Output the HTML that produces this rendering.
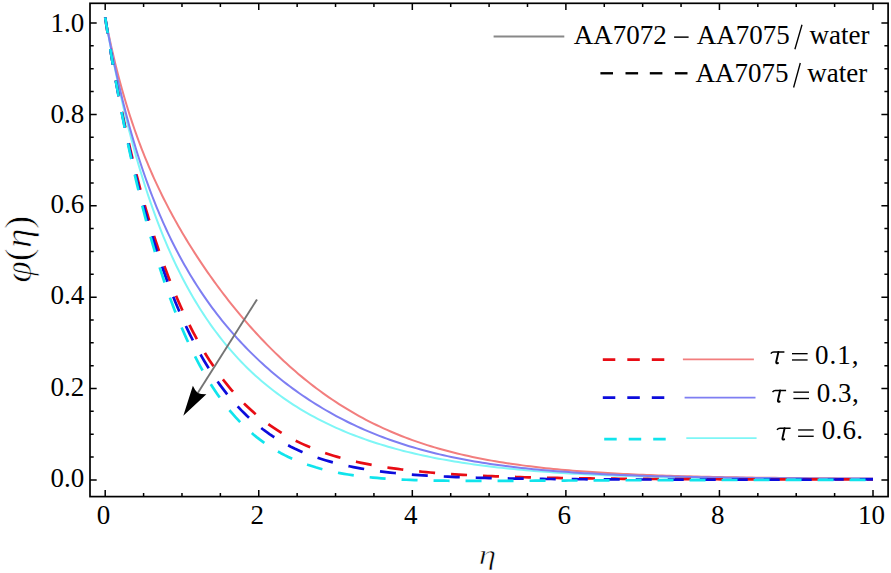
<!DOCTYPE html>
<html><head><meta charset="utf-8"><style>
html,body{margin:0;padding:0;background:#fff;overflow:hidden;}
svg{display:block;}
text{font-family:"Liberation Serif",serif;}
</style></head><body>
<svg width="891" height="573" viewBox="0 0 891 573">
<rect width="891" height="573" fill="#fff"/>
<g fill="none" stroke-linejoin="round">
<path d="M105.20,17.40 L105.95,21.23 L106.71,25.05 L107.49,28.88 L108.28,32.69 L109.09,36.51 L109.91,40.32 L110.74,44.13 L111.59,47.94 L112.46,51.74 L113.34,55.54 L114.24,59.34 L115.15,63.13 L116.09,66.92 L117.04,70.70 L118.00,74.48 L118.99,78.25 L120.00,82.02 L121.02,85.79 L122.06,89.54 L123.13,93.30 L124.21,97.04 L125.31,100.78 L126.44,104.52 L127.58,108.25 L128.75,111.97 L129.94,115.69 L131.15,119.39 L132.38,123.09 L133.63,126.79 L134.91,130.47 L136.21,134.15 L137.54,137.82 L138.88,141.48 L140.26,145.13 L141.65,148.77 L143.07,152.40 L144.52,156.03 L145.98,159.64 L147.48,163.24 L148.99,166.84 L150.54,170.42 L152.10,173.99 L153.69,177.55 L155.31,181.10 L156.95,184.64 L158.61,188.17 L160.30,191.69 L162.01,195.19 L163.75,198.68 L165.51,202.16 L167.30,205.63 L169.10,209.09 L170.93,212.53 L172.79,215.96 L174.67,219.38 L176.57,222.79 L178.49,226.18 L180.43,229.56 L182.40,232.93 L184.39,236.29 L186.40,239.63 L188.43,242.96 L190.49,246.27 L192.56,249.58 L194.66,252.87 L196.77,256.14 L198.91,259.41 L201.07,262.65 L203.25,265.89 L205.45,269.11 L207.67,272.32 L209.90,275.51 L212.16,278.69 L214.44,281.86 L216.74,285.01 L219.06,288.15 L221.40,291.27 L223.76,294.37 L226.14,297.47 L228.53,300.54 L230.95,303.60 L233.39,306.64 L235.85,309.67 L238.33,312.68 L240.83,315.68 L243.35,318.65 L245.89,321.61 L248.46,324.55 L251.04,327.48 L253.64,330.38 L256.27,333.26 L258.91,336.13 L261.58,338.97 L264.27,341.80 L266.99,344.60 L269.72,347.38 L272.48,350.14 L275.26,352.88 L278.06,355.59 L280.88,358.28 L283.73,360.95 L286.60,363.59 L289.50,366.20 L292.41,368.79 L295.36,371.35 L298.32,373.89 L301.31,376.39 L304.32,378.87 L307.36,381.32 L310.42,383.74 L313.50,386.13 L316.61,388.49 L319.74,390.81 L322.89,393.10 L326.07,395.37 L329.27,397.59 L332.50,399.79 L335.75,401.95 L339.02,404.07 L342.31,406.16 L345.63,408.21 L348.97,410.23 L352.33,412.21 L355.71,414.15 L359.11,416.06 L362.53,417.93 L365.98,419.76 L369.44,421.55 L372.93,423.31 L376.43,425.02 L379.95,426.70 L383.49,428.34 L387.04,429.94 L390.62,431.51 L394.21,433.03 L397.81,434.52 L401.43,435.97 L405.07,437.39 L408.72,438.76 L412.38,440.10 L416.06,441.40 L419.75,442.67 L423.45,443.90 L427.16,445.10 L430.88,446.26 L434.62,447.39 L438.36,448.48 L442.11,449.54 L445.88,450.57 L449.65,451.57 L453.43,452.53 L457.21,453.47 L461.01,454.38 L464.81,455.25 L468.61,456.10 L472.43,456.92 L476.25,457.72 L480.07,458.48 L483.90,459.22 L487.73,459.94 L491.57,460.63 L495.42,461.30 L499.26,461.95 L503.11,462.57 L506.97,463.17 L510.82,463.75 L514.68,464.31 L518.55,464.86 L522.41,465.38 L526.28,465.88 L530.15,466.36 L534.02,466.83 L537.90,467.28 L541.77,467.72 L545.65,468.14 L549.53,468.54 L553.41,468.93 L557.29,469.30 L561.18,469.67 L565.06,470.01 L568.95,470.35 L572.83,470.67 L576.72,470.98 L580.61,471.28 L584.50,471.57 L588.39,471.85 L592.28,472.11 L596.18,472.37 L600.07,472.62 L603.96,472.86 L607.85,473.09 L611.75,473.31 L615.64,473.52 L619.54,473.73 L623.43,473.93 L627.33,474.12 L631.23,474.30 L635.12,474.48 L639.02,474.64 L642.92,474.81 L646.81,474.97 L650.71,475.12 L654.61,475.26 L658.51,475.40 L662.40,475.54 L666.30,475.67 L670.20,475.79 L674.10,475.91 L678.00,476.03 L681.90,476.14 L685.80,476.25 L689.70,476.35 L693.59,476.45 L697.49,476.55 L701.39,476.64 L705.29,476.73 L709.19,476.82 L713.09,476.90 L716.99,476.98 L720.89,477.06 L724.79,477.13 L728.69,477.20 L732.59,477.27 L736.49,477.34 L740.39,477.40 L744.29,477.46 L748.19,477.52 L752.09,477.57 L755.99,477.63 L759.89,477.68 L763.79,477.73 L767.69,477.78 L771.59,477.83 L775.49,477.87 L779.39,477.92 L783.29,477.96 L787.19,478.00 L791.09,478.04 L794.99,478.07 L798.89,478.11 L802.79,478.14 L806.69,478.17 L810.59,478.21 L814.49,478.24 L818.39,478.27 L822.29,478.29 L826.20,478.32 L830.10,478.35 L834.00,478.37 L837.90,478.39 L841.80,478.42 L845.70,478.44 L849.60,478.46 L853.50,478.48 L857.40,478.50 L861.30,478.51 L865.20,478.53 L869.10,478.55 L873.00,478.56" stroke="#f27e7e" stroke-width="2.0"/>
<path d="M105.20,17.40 L105.90,21.33 L106.60,25.26 L107.31,29.19 L108.03,33.12 L108.76,37.05 L109.50,40.98 L110.24,44.90 L111.00,48.82 L111.76,52.74 L112.54,56.66 L113.32,60.58 L114.11,64.49 L114.91,68.41 L115.72,72.32 L116.54,76.23 L117.37,80.13 L118.21,84.04 L119.07,87.94 L119.93,91.84 L120.80,95.74 L121.69,99.63 L122.59,103.53 L123.49,107.41 L124.42,111.30 L125.35,115.18 L126.29,119.07 L127.25,122.94 L128.23,126.82 L129.21,130.69 L130.21,134.56 L131.22,138.42 L132.25,142.28 L133.29,146.14 L134.35,149.99 L135.42,153.84 L136.50,157.68 L137.61,161.52 L138.73,165.35 L139.86,169.18 L141.01,173.01 L142.18,176.82 L143.37,180.64 L144.58,184.45 L145.80,188.25 L147.04,192.04 L148.31,195.83 L149.59,199.62 L150.89,203.39 L152.21,207.16 L153.56,210.92 L154.92,214.68 L156.31,218.42 L157.72,222.16 L159.15,225.89 L160.61,229.61 L162.09,233.32 L163.59,237.02 L165.12,240.71 L166.68,244.39 L168.26,248.05 L169.86,251.71 L171.50,255.36 L173.16,258.99 L174.85,262.61 L176.57,266.21 L178.32,269.80 L180.10,273.38 L181.91,276.94 L183.75,280.48 L185.62,284.01 L187.52,287.52 L189.46,291.02 L191.43,294.49 L193.43,297.95 L195.47,301.38 L197.54,304.80 L199.65,308.19 L201.79,311.56 L203.97,314.91 L206.19,318.23 L208.44,321.53 L210.73,324.81 L213.06,328.05 L215.42,331.27 L217.82,334.46 L220.26,337.62 L222.74,340.75 L225.26,343.85 L227.82,346.92 L230.42,349.96 L233.05,352.96 L235.73,355.93 L238.44,358.86 L241.19,361.75 L243.98,364.61 L246.81,367.43 L249.67,370.21 L252.58,372.96 L255.52,375.66 L258.50,378.32 L261.51,380.94 L264.56,383.52 L267.64,386.06 L270.76,388.55 L273.92,391.00 L277.10,393.41 L280.32,395.78 L283.58,398.10 L286.86,400.37 L290.17,402.60 L293.51,404.79 L296.89,406.93 L300.29,409.03 L303.71,411.08 L307.17,413.09 L310.64,415.05 L314.15,416.97 L317.67,418.84 L321.22,420.68 L324.79,422.47 L328.39,424.21 L332.00,425.91 L335.63,427.57 L339.28,429.19 L342.95,430.77 L346.64,432.31 L350.34,433.81 L354.06,435.26 L357.79,436.68 L361.54,438.06 L365.30,439.41 L369.08,440.71 L372.87,441.98 L376.66,443.21 L380.48,444.41 L384.30,445.58 L388.13,446.71 L391.97,447.81 L395.82,448.87 L399.67,449.90 L403.54,450.91 L407.42,451.88 L411.30,452.82 L415.18,453.74 L419.08,454.62 L422.98,455.48 L426.89,456.31 L430.80,457.12 L434.72,457.90 L438.64,458.66 L442.56,459.39 L446.50,460.10 L450.43,460.78 L454.37,461.44 L458.31,462.08 L462.26,462.70 L466.21,463.30 L470.16,463.88 L474.11,464.45 L478.07,464.99 L482.03,465.51 L485.99,466.02 L489.96,466.51 L493.92,466.98 L497.89,467.43 L501.86,467.88 L505.83,468.30 L509.81,468.71 L513.78,469.11 L517.76,469.49 L521.73,469.86 L525.71,470.22 L529.69,470.56 L533.67,470.89 L537.65,471.21 L541.63,471.52 L545.62,471.82 L549.60,472.11 L553.59,472.39 L557.57,472.65 L561.56,472.91 L565.54,473.16 L569.53,473.40 L573.52,473.63 L577.51,473.85 L581.49,474.07 L585.48,474.27 L589.47,474.47 L593.46,474.66 L597.45,474.85 L601.44,475.03 L605.43,475.20 L609.42,475.36 L613.42,475.52 L617.41,475.68 L621.40,475.82 L625.39,475.97 L629.38,476.10 L633.37,476.24 L637.37,476.36 L641.36,476.49 L645.35,476.60 L649.34,476.72 L653.34,476.83 L657.33,476.93 L661.32,477.03 L665.31,477.13 L669.31,477.23 L673.30,477.32 L677.29,477.40 L681.29,477.49 L685.28,477.57 L689.27,477.65 L693.27,477.72 L697.26,477.79 L701.26,477.86 L705.25,477.93 L709.24,477.99 L713.24,478.06 L717.23,478.12 L721.22,478.17 L725.22,478.23 L729.21,478.28 L733.21,478.33 L737.20,478.38 L741.19,478.43 L745.19,478.48 L749.18,478.52 L753.18,478.56 L757.17,478.60 L761.16,478.64 L765.16,478.68 L769.15,478.72 L773.15,478.75 L777.14,478.79 L781.13,478.82 L785.13,478.85 L789.12,478.88 L793.12,478.91 L797.11,478.94 L801.10,478.97 L805.10,478.99 L809.09,479.02 L813.09,479.04 L817.08,479.06 L821.08,479.09 L825.07,479.11 L829.06,479.13 L833.06,479.15 L837.05,479.17 L841.05,479.19 L845.04,479.21 L849.03,479.22 L853.03,479.24 L857.02,479.26 L861.02,479.27 L865.01,479.29 L869.01,479.30 L873.00,479.31" stroke="#7ef6f6" stroke-width="2.0"/>
<path d="M105.20,17.40 L105.90,21.29 L106.62,25.18 L107.34,29.06 L108.07,32.95 L108.81,36.83 L109.56,40.71 L110.33,44.59 L111.10,48.46 L111.88,52.34 L112.68,56.21 L113.48,60.08 L114.30,63.94 L115.13,67.81 L115.97,71.67 L116.83,75.53 L117.69,79.38 L118.57,83.24 L119.46,87.09 L120.37,90.93 L121.29,94.78 L122.22,98.62 L123.17,102.46 L124.13,106.29 L125.11,110.12 L126.10,113.94 L127.11,117.77 L128.13,121.58 L129.17,125.40 L130.23,129.20 L131.30,133.01 L132.39,136.81 L133.50,140.60 L134.62,144.39 L135.77,148.17 L136.93,151.95 L138.11,155.72 L139.31,159.49 L140.53,163.25 L141.77,167.00 L143.03,170.74 L144.32,174.48 L145.62,178.21 L146.94,181.94 L148.29,185.65 L149.66,189.36 L151.05,193.06 L152.47,196.75 L153.91,200.43 L155.37,204.10 L156.86,207.76 L158.38,211.41 L159.92,215.05 L161.48,218.68 L163.07,222.30 L164.69,225.91 L166.33,229.50 L168.00,233.08 L169.70,236.65 L171.43,240.20 L173.19,243.74 L174.97,247.27 L176.78,250.78 L178.62,254.28 L180.49,257.76 L182.40,261.23 L184.33,264.68 L186.29,268.11 L188.28,271.52 L190.30,274.92 L192.35,278.29 L194.43,281.65 L196.55,284.99 L198.69,288.31 L200.87,291.61 L203.08,294.89 L205.32,298.15 L207.59,301.38 L209.89,304.60 L212.22,307.79 L214.58,310.95 L216.98,314.10 L219.40,317.22 L221.86,320.31 L224.35,323.39 L226.87,326.43 L229.41,329.45 L231.99,332.45 L234.60,335.41 L237.24,338.35 L239.92,341.27 L242.62,344.15 L245.35,347.01 L248.11,349.84 L250.89,352.64 L253.71,355.41 L256.56,358.15 L259.43,360.86 L262.34,363.55 L265.27,366.20 L268.23,368.82 L271.22,371.40 L274.23,373.96 L277.27,376.48 L280.34,378.98 L283.43,381.43 L286.55,383.86 L289.70,386.25 L292.87,388.61 L296.07,390.93 L299.29,393.22 L302.54,395.48 L305.81,397.70 L309.10,399.88 L312.42,402.03 L315.76,404.14 L319.12,406.22 L322.51,408.26 L325.91,410.26 L329.34,412.22 L332.79,414.15 L336.26,416.05 L339.75,417.90 L343.26,419.72 L346.79,421.50 L350.34,423.25 L353.90,424.95 L357.48,426.62 L361.08,428.25 L364.70,429.85 L368.33,431.41 L371.98,432.93 L375.64,434.41 L379.32,435.86 L383.01,437.27 L386.71,438.65 L390.43,439.99 L394.16,441.29 L397.91,442.56 L401.66,443.80 L405.42,445.00 L409.20,446.17 L412.99,447.30 L416.78,448.41 L420.59,449.48 L424.40,450.52 L428.22,451.52 L432.05,452.50 L435.89,453.45 L439.73,454.36 L443.58,455.25 L447.44,456.11 L451.30,456.95 L455.17,457.75 L459.05,458.53 L462.93,459.29 L466.81,460.01 L470.70,460.72 L474.59,461.40 L478.49,462.06 L482.39,462.69 L486.30,463.30 L490.20,463.89 L494.11,464.47 L498.03,465.02 L501.94,465.55 L505.86,466.06 L509.78,466.55 L513.71,467.03 L517.63,467.49 L521.56,467.93 L525.49,468.35 L529.42,468.76 L533.35,469.16 L537.29,469.54 L541.22,469.91 L545.16,470.26 L549.10,470.60 L553.04,470.92 L556.98,471.24 L560.92,471.54 L564.86,471.83 L568.80,472.11 L572.74,472.38 L576.69,472.64 L580.63,472.89 L584.58,473.13 L588.52,473.36 L592.47,473.58 L596.41,473.79 L600.36,474.00 L604.31,474.19 L608.26,474.38 L612.20,474.56 L616.15,474.74 L620.10,474.91 L624.05,475.07 L628.00,475.22 L631.95,475.37 L635.90,475.52 L639.85,475.65 L643.80,475.79 L647.75,475.91 L651.70,476.04 L655.65,476.15 L659.60,476.27 L663.55,476.37 L667.50,476.48 L671.45,476.58 L675.40,476.68 L679.35,476.77 L683.30,476.86 L687.26,476.94 L691.21,477.02 L695.16,477.10 L699.11,477.18 L703.06,477.25 L707.01,477.32 L710.97,477.39 L714.92,477.45 L718.87,477.51 L722.82,477.57 L726.77,477.63 L730.72,477.68 L734.68,477.74 L738.63,477.79 L742.58,477.83 L746.53,477.88 L750.48,477.92 L754.44,477.97 L758.39,478.01 L762.34,478.05 L766.29,478.08 L770.24,478.12 L774.20,478.15 L778.15,478.19 L782.10,478.22 L786.05,478.25 L790.00,478.27 L793.96,478.30 L797.91,478.33 L801.86,478.35 L805.81,478.37 L809.76,478.40 L813.72,478.42 L817.67,478.44 L821.62,478.46 L825.57,478.47 L829.53,478.49 L833.48,478.51 L837.43,478.52 L841.38,478.53 L845.33,478.55 L849.29,478.56 L853.24,478.57 L857.19,478.58 L861.14,478.59 L865.10,478.60 L869.05,478.60 L873.00,478.61" stroke="#7e7ef2" stroke-width="2.0"/>
<path d="M105.20,17.40 L105.82,21.45 L106.44,25.51 L107.07,29.56 L107.72,33.61 L108.37,37.66 L109.03,41.70 L109.70,45.75 L110.37,49.79 L111.06,53.84 L111.76,57.88 L112.46,61.92 L113.18,65.95 L113.90,69.99 L114.64,74.02 L115.38,78.06 L116.13,82.09 L116.90,86.12 L117.67,90.14 L118.45,94.17 L119.24,98.19 L120.05,102.21 L120.86,106.23 L121.68,110.25 L122.52,114.26 L123.36,118.28 L124.22,122.29 L125.08,126.29 L125.96,130.30 L126.85,134.30 L127.75,138.30 L128.66,142.30 L129.58,146.30 L130.51,150.29 L131.46,154.28 L132.42,158.27 L133.39,162.25 L134.37,166.23 L135.36,170.21 L136.37,174.19 L137.39,178.16 L138.43,182.13 L139.47,186.09 L140.54,190.05 L141.61,194.01 L142.70,197.96 L143.81,201.91 L144.92,205.85 L146.06,209.79 L147.21,213.73 L148.37,217.66 L149.56,221.59 L150.76,225.51 L151.97,229.43 L153.20,233.34 L154.45,237.24 L155.72,241.14 L157.01,245.03 L158.32,248.92 L159.64,252.80 L160.99,256.67 L162.36,260.54 L163.74,264.40 L165.15,268.25 L166.58,272.09 L168.04,275.93 L169.52,279.75 L171.02,283.57 L172.55,287.37 L174.10,291.17 L175.68,294.95 L177.28,298.72 L178.92,302.49 L180.58,306.23 L182.27,309.97 L183.99,313.69 L185.75,317.40 L187.53,321.09 L189.35,324.76 L191.20,328.42 L193.09,332.06 L195.02,335.68 L196.98,339.28 L198.97,342.87 L201.01,346.42 L203.09,349.96 L205.21,353.47 L207.37,356.95 L209.58,360.41 L211.83,363.84 L214.12,367.24 L216.46,370.60 L218.86,373.93 L221.29,377.23 L223.78,380.49 L226.32,383.71 L228.92,386.88 L231.56,390.02 L234.26,393.11 L237.01,396.15 L239.81,399.14 L242.67,402.08 L245.58,404.96 L248.55,407.79 L251.57,410.56 L254.65,413.28 L257.78,415.92 L260.96,418.51 L264.20,421.03 L267.49,423.48 L270.82,425.86 L274.21,428.18 L277.64,430.42 L281.12,432.59 L284.64,434.69 L288.20,436.72 L291.80,438.68 L295.45,440.57 L299.12,442.38 L302.83,444.13 L306.58,445.80 L310.35,447.41 L314.15,448.95 L317.98,450.42 L321.83,451.83 L325.70,453.18 L329.59,454.47 L333.50,455.70 L337.43,456.87 L341.38,457.99 L345.34,459.05 L349.31,460.07 L353.30,461.03 L357.29,461.95 L361.30,462.82 L365.31,463.65 L369.34,464.44 L373.37,465.19 L377.41,465.90 L381.45,466.58 L385.50,467.22 L389.56,467.83 L393.62,468.41 L397.68,468.96 L401.75,469.49 L405.82,469.98 L409.89,470.45 L413.97,470.90 L418.05,471.32 L422.13,471.73 L426.21,472.11 L430.29,472.47 L434.38,472.81 L438.47,473.14 L442.56,473.45 L446.65,473.75 L450.74,474.03 L454.83,474.29 L458.92,474.54 L463.01,474.78 L467.11,475.01 L471.20,475.23 L475.30,475.43 L479.39,475.63 L483.49,475.81 L487.59,475.99 L491.68,476.16 L495.78,476.31 L499.88,476.47 L503.98,476.61 L508.08,476.75 L512.17,476.88 L516.27,477.00 L520.37,477.12 L524.47,477.23 L528.57,477.34 L532.67,477.44 L536.77,477.54 L540.87,477.63 L544.97,477.72 L549.07,477.80 L553.17,477.88 L557.27,477.95 L561.37,478.03 L565.47,478.09 L569.57,478.16 L573.67,478.22 L577.77,478.28 L581.87,478.34 L585.97,478.39 L590.07,478.45 L594.17,478.49 L598.27,478.54 L602.37,478.59 L606.47,478.63 L610.57,478.67 L614.67,478.71 L618.77,478.75 L622.87,478.78 L626.97,478.82 L631.07,478.85 L635.17,478.88 L639.27,478.91 L643.37,478.94 L647.47,478.96 L651.57,478.99 L655.67,479.01 L659.77,479.04 L663.87,479.06 L667.97,479.08 L672.08,479.10 L676.18,479.12 L680.28,479.14 L684.38,479.16 L688.48,479.17 L692.58,479.19 L696.68,479.21 L700.78,479.22 L704.88,479.23 L708.98,479.25 L713.08,479.26 L717.18,479.27 L721.28,479.28 L725.38,479.30 L729.48,479.31 L733.58,479.32 L737.68,479.32 L741.78,479.33 L745.88,479.34 L749.98,479.35 L754.09,479.36 L758.19,479.36 L762.29,479.37 L766.39,479.38 L770.49,479.38 L774.59,479.39 L778.69,479.39 L782.79,479.40 L786.89,479.40 L790.99,479.41 L795.09,479.41 L799.19,479.41 L803.29,479.41 L807.39,479.42 L811.49,479.42 L815.59,479.42 L819.69,479.42 L823.79,479.42 L827.89,479.42 L831.99,479.42 L836.10,479.42 L840.20,479.42 L844.30,479.42 L848.40,479.42 L852.50,479.42 L856.60,479.42 L860.70,479.42 L864.80,479.41 L868.90,479.41 L873.00,479.41" stroke="#e80c14" stroke-width="2.7" stroke-dasharray="16 16"/>
<path d="M105.20,17.40 L105.83,21.48 L106.46,25.56 L107.10,29.64 L107.75,33.72 L108.40,37.79 L109.06,41.87 L109.73,45.94 L110.41,50.01 L111.09,54.09 L111.78,58.16 L112.48,62.23 L113.18,66.29 L113.90,70.36 L114.62,74.42 L115.35,78.49 L116.09,82.55 L116.84,86.61 L117.59,90.67 L118.36,94.73 L119.13,98.78 L119.91,102.84 L120.70,106.89 L121.50,110.94 L122.31,114.99 L123.13,119.03 L123.96,123.08 L124.80,127.12 L125.64,131.16 L126.50,135.20 L127.37,139.23 L128.25,143.27 L129.14,147.30 L130.04,151.33 L130.96,155.35 L131.88,159.38 L132.82,163.40 L133.76,167.42 L134.72,171.43 L135.69,175.45 L136.68,179.46 L137.68,183.46 L138.68,187.46 L139.71,191.46 L140.74,195.46 L141.79,199.45 L142.86,203.44 L143.94,207.43 L145.03,211.41 L146.14,215.39 L147.26,219.36 L148.40,223.33 L149.56,227.29 L150.73,231.25 L151.92,235.20 L153.12,239.15 L154.35,243.09 L155.59,247.03 L156.85,250.96 L158.12,254.89 L159.42,258.81 L160.74,262.72 L162.08,266.63 L163.44,270.53 L164.82,274.42 L166.22,278.30 L167.64,282.17 L169.09,286.04 L170.56,289.90 L172.06,293.75 L173.58,297.58 L175.13,301.41 L176.70,305.23 L178.30,309.03 L179.93,312.83 L181.59,316.61 L183.28,320.38 L184.99,324.13 L186.75,327.87 L188.53,331.59 L190.35,335.30 L192.20,338.99 L194.09,342.66 L196.01,346.31 L197.97,349.95 L199.97,353.56 L202.02,357.14 L204.10,360.71 L206.23,364.25 L208.40,367.76 L210.61,371.24 L212.88,374.69 L215.19,378.12 L217.55,381.50 L219.96,384.85 L222.42,388.17 L224.93,391.44 L227.50,394.67 L230.13,397.86 L232.81,401.00 L235.55,404.09 L238.34,407.13 L241.19,410.12 L244.11,413.04 L247.08,415.91 L250.11,418.71 L253.20,421.45 L256.34,424.12 L259.55,426.72 L262.81,429.25 L266.13,431.70 L269.51,434.08 L272.94,436.38 L276.42,438.60 L279.95,440.74 L283.53,442.80 L287.15,444.78 L290.81,446.68 L294.52,448.50 L298.27,450.23 L302.05,451.89 L305.86,453.47 L309.71,454.98 L313.58,456.41 L317.48,457.76 L321.40,459.05 L325.35,460.27 L329.31,461.42 L333.29,462.51 L337.29,463.54 L341.30,464.51 L345.33,465.43 L349.37,466.29 L353.41,467.10 L357.47,467.87 L361.54,468.59 L365.61,469.26 L369.69,469.90 L373.77,470.50 L377.86,471.06 L381.96,471.59 L386.06,472.08 L390.16,472.55 L394.26,472.98 L398.37,473.39 L402.48,473.77 L406.60,474.13 L410.71,474.47 L414.83,474.79 L418.94,475.09 L423.06,475.36 L427.18,475.63 L431.30,475.87 L435.43,476.10 L439.55,476.32 L443.67,476.52 L447.80,476.71 L451.92,476.89 L456.05,477.05 L460.17,477.21 L464.30,477.36 L468.42,477.49 L472.55,477.62 L476.68,477.75 L480.81,477.86 L484.93,477.97 L489.06,478.07 L493.19,478.16 L497.31,478.25 L501.44,478.34 L505.57,478.41 L509.70,478.49 L513.83,478.56 L517.95,478.62 L522.08,478.68 L526.21,478.74 L530.34,478.80 L534.47,478.85 L538.59,478.89 L542.72,478.94 L546.85,478.98 L550.98,479.02 L555.11,479.06 L559.24,479.10 L563.36,479.13 L567.49,479.16 L571.62,479.19 L575.75,479.22 L579.88,479.25 L584.01,479.27 L588.13,479.29 L592.26,479.32 L596.39,479.34 L600.52,479.36 L604.65,479.38 L608.78,479.39 L612.91,479.41 L617.03,479.43 L621.16,479.44 L625.29,479.45 L629.42,479.47 L633.55,479.48 L637.68,479.49 L641.80,479.50 L645.93,479.51 L650.06,479.52 L654.19,479.53 L658.32,479.54 L662.45,479.55 L666.58,479.55 L670.70,479.56 L674.83,479.57 L678.96,479.57 L683.09,479.58 L687.22,479.58 L691.35,479.59 L695.48,479.59 L699.60,479.60 L703.73,479.60 L707.86,479.60 L711.99,479.61 L716.12,479.61 L720.25,479.61 L724.37,479.61 L728.50,479.61 L732.63,479.61 L736.76,479.61 L740.89,479.61 L745.02,479.61 L749.15,479.61 L753.27,479.61 L757.40,479.61 L761.53,479.61 L765.66,479.61 L769.79,479.60 L773.92,479.60 L778.05,479.60 L782.17,479.59 L786.30,479.59 L790.43,479.58 L794.56,479.58 L798.69,479.57 L802.82,479.57 L806.94,479.56 L811.07,479.55 L815.20,479.54 L819.33,479.53 L823.46,479.52 L827.59,479.51 L831.72,479.50 L835.84,479.49 L839.97,479.47 L844.10,479.46 L848.23,479.44 L852.36,479.42 L856.49,479.40 L860.61,479.38 L864.74,479.36 L868.87,479.34 L873.00,479.31" stroke="#0c0cdc" stroke-width="2.7" stroke-dasharray="16 16"/>
<path d="M105.20,17.40 L105.84,21.52 L106.49,25.63 L107.15,29.75 L107.81,33.87 L108.47,37.98 L109.14,42.09 L109.82,46.21 L110.50,50.32 L111.19,54.43 L111.89,58.54 L112.59,62.65 L113.30,66.75 L114.02,70.86 L114.74,74.96 L115.47,79.07 L116.20,83.17 L116.95,87.27 L117.70,91.37 L118.45,95.47 L119.22,99.57 L119.99,103.66 L120.77,107.76 L121.56,111.85 L122.35,115.94 L123.15,120.03 L123.97,124.12 L124.79,128.20 L125.61,132.29 L126.45,136.37 L127.30,140.45 L128.15,144.53 L129.02,148.61 L129.89,152.68 L130.77,156.76 L131.66,160.83 L132.57,164.90 L133.48,168.96 L134.40,173.03 L135.34,177.09 L136.28,181.15 L137.24,185.20 L138.21,189.26 L139.18,193.31 L140.18,197.36 L141.18,201.40 L142.19,205.45 L143.22,209.48 L144.26,213.52 L145.32,217.55 L146.38,221.58 L147.47,225.61 L148.56,229.63 L149.67,233.64 L150.80,237.66 L151.94,241.67 L153.09,245.67 L154.27,249.67 L155.46,253.66 L156.66,257.65 L157.89,261.64 L159.13,265.62 L160.39,269.59 L161.67,273.55 L162.97,277.51 L164.29,281.47 L165.63,285.41 L166.99,289.35 L168.38,293.28 L169.78,297.21 L171.22,301.12 L172.67,305.03 L174.15,308.92 L175.65,312.81 L177.19,316.69 L178.75,320.55 L180.33,324.40 L181.95,328.25 L183.60,332.07 L185.28,335.89 L186.99,339.69 L188.73,343.47 L190.51,347.24 L192.32,351.00 L194.17,354.73 L196.06,358.44 L197.99,362.14 L199.96,365.81 L201.98,369.46 L204.03,373.09 L206.13,376.69 L208.28,380.26 L210.48,383.80 L212.73,387.31 L215.03,390.78 L217.38,394.23 L219.78,397.63 L222.25,400.99 L224.77,404.31 L227.35,407.58 L229.99,410.81 L232.69,413.98 L235.46,417.10 L238.29,420.16 L241.18,423.15 L244.14,426.09 L247.17,428.95 L250.26,431.75 L253.42,434.47 L256.64,437.11 L259.93,439.67 L263.29,442.14 L266.70,444.53 L270.18,446.83 L273.71,449.05 L277.30,451.16 L280.94,453.19 L284.63,455.12 L288.37,456.96 L292.15,458.71 L295.98,460.36 L299.84,461.93 L303.74,463.40 L307.67,464.79 L311.63,466.09 L315.61,467.32 L319.62,468.46 L323.65,469.52 L327.70,470.52 L331.76,471.44 L335.84,472.30 L339.93,473.10 L344.03,473.83 L348.15,474.51 L352.27,475.14 L356.39,475.72 L360.53,476.25 L364.67,476.74 L368.81,477.18 L372.96,477.59 L377.11,477.96 L381.26,478.30 L385.42,478.61 L389.58,478.89 L393.74,479.15 L397.90,479.37 L402.06,479.58 L406.23,479.76 L410.39,479.93 L414.56,480.08 L418.72,480.21 L422.89,480.32 L427.05,480.42 L431.22,480.51 L435.39,480.59 L439.55,480.66 L443.72,480.71 L447.89,480.76 L452.06,480.80 L456.22,480.83 L460.39,480.86 L464.56,480.88 L468.73,480.89 L472.90,480.90 L477.06,480.90 L481.23,480.90 L485.40,480.90 L489.57,480.89 L493.73,480.89 L497.90,480.87 L502.07,480.86 L506.24,480.85 L510.41,480.83 L514.57,480.81 L518.74,480.79 L522.91,480.77 L527.08,480.75 L531.24,480.73 L535.41,480.71 L539.58,480.68 L543.75,480.66 L547.92,480.64 L552.08,480.62 L556.25,480.59 L560.42,480.57 L564.59,480.55 L568.75,480.52 L572.92,480.50 L577.09,480.48 L581.26,480.46 L585.42,480.44 L589.59,480.42 L593.76,480.40 L597.93,480.38 L602.10,480.36 L606.26,480.34 L610.43,480.32 L614.60,480.31 L618.77,480.29 L622.93,480.27 L627.10,480.26 L631.27,480.24 L635.44,480.23 L639.61,480.21 L643.77,480.20 L647.94,480.19 L652.11,480.17 L656.28,480.16 L660.44,480.15 L664.61,480.14 L668.78,480.13 L672.95,480.12 L677.11,480.11 L681.28,480.10 L685.45,480.09 L689.62,480.08 L693.79,480.07 L697.95,480.06 L702.12,480.05 L706.29,480.05 L710.46,480.04 L714.62,480.03 L718.79,480.03 L722.96,480.02 L727.13,480.01 L731.30,480.01 L735.46,480.00 L739.63,480.00 L743.80,479.99 L747.97,479.99 L752.13,479.98 L756.30,479.98 L760.47,479.98 L764.64,479.97 L768.81,479.97 L772.97,479.96 L777.14,479.96 L781.31,479.96 L785.48,479.95 L789.64,479.95 L793.81,479.95 L797.98,479.95 L802.15,479.94 L806.32,479.94 L810.48,479.94 L814.65,479.94 L818.82,479.94 L822.99,479.93 L827.15,479.93 L831.32,479.93 L835.49,479.93 L839.66,479.93 L843.83,479.93 L847.99,479.92 L852.16,479.92 L856.33,479.92 L860.50,479.92 L864.66,479.92 L868.83,479.92 L873.00,479.92" stroke="#10e4ec" stroke-width="2.7" stroke-dasharray="16 16"/>
</g>
<g stroke="#000" fill="none">
<rect x="90.0" y="3.3" width="798.1" height="493.3" stroke-width="1.7"/>
<path d="M105.20,496.6 V489.90 M105.20,3.3 V10.00 M143.59,496.6 V492.90 M143.59,3.3 V7.00 M181.98,496.6 V492.90 M181.98,3.3 V7.00 M220.37,496.6 V492.90 M220.37,3.3 V7.00 M258.76,496.6 V489.90 M258.76,3.3 V10.00 M297.15,496.6 V492.90 M297.15,3.3 V7.00 M335.54,496.6 V492.90 M335.54,3.3 V7.00 M373.93,496.6 V492.90 M373.93,3.3 V7.00 M412.32,496.6 V489.90 M412.32,3.3 V10.00 M450.71,496.6 V492.90 M450.71,3.3 V7.00 M489.10,496.6 V492.90 M489.10,3.3 V7.00 M527.49,496.6 V492.90 M527.49,3.3 V7.00 M565.88,496.6 V489.90 M565.88,3.3 V10.00 M604.27,496.6 V492.90 M604.27,3.3 V7.00 M642.66,496.6 V492.90 M642.66,3.3 V7.00 M681.05,496.6 V492.90 M681.05,3.3 V7.00 M719.44,496.6 V489.90 M719.44,3.3 V10.00 M757.83,496.6 V492.90 M757.83,3.3 V7.00 M796.22,496.6 V492.90 M796.22,3.3 V7.00 M834.61,496.6 V492.90 M834.61,3.3 V7.00 M873.00,496.6 V489.90 M873.00,3.3 V10.00 M90.0,479.90 H96.70 M888.1,479.90 H881.40 M90.0,457.05 H93.70 M888.1,457.05 H884.40 M90.0,434.21 H93.70 M888.1,434.21 H884.40 M90.0,411.36 H93.70 M888.1,411.36 H884.40 M90.0,388.52 H96.70 M888.1,388.52 H881.40 M90.0,365.67 H93.70 M888.1,365.67 H884.40 M90.0,342.83 H93.70 M888.1,342.83 H884.40 M90.0,319.98 H93.70 M888.1,319.98 H884.40 M90.0,297.14 H96.70 M888.1,297.14 H881.40 M90.0,274.29 H93.70 M888.1,274.29 H884.40 M90.0,251.45 H93.70 M888.1,251.45 H884.40 M90.0,228.60 H93.70 M888.1,228.60 H884.40 M90.0,205.76 H96.70 M888.1,205.76 H881.40 M90.0,182.91 H93.70 M888.1,182.91 H884.40 M90.0,160.07 H93.70 M888.1,160.07 H884.40 M90.0,137.23 H93.70 M888.1,137.23 H884.40 M90.0,114.38 H96.70 M888.1,114.38 H881.40 M90.0,91.53 H93.70 M888.1,91.53 H884.40 M90.0,68.69 H93.70 M888.1,68.69 H884.40 M90.0,45.84 H93.70 M888.1,45.84 H884.40 M90.0,23.00 H96.70 M888.1,23.00 H881.40" stroke-width="1.5"/>
</g>
<g font-size="27" fill="#000">
<text x="103.60" y="523.7" text-anchor="middle">0</text><text x="257.16" y="523.7" text-anchor="middle">2</text><text x="410.72" y="523.7" text-anchor="middle">4</text><text x="564.28" y="523.7" text-anchor="middle">6</text><text x="717.84" y="523.7" text-anchor="middle">8</text><text x="871.40" y="523.7" text-anchor="middle">10</text>
<text x="84.3" y="31.6" text-anchor="end">1.0</text><text x="84.3" y="122.5" text-anchor="end">0.8</text><text x="84.3" y="212.9" text-anchor="end">0.6</text><text x="84.3" y="303.6" text-anchor="end">0.4</text><text x="84.3" y="395.7" text-anchor="end">0.2</text><text x="84.3" y="486.8" text-anchor="end">0.0</text>
</g>
<text transform="translate(478.8,564.2) scale(1.28,1)" font-size="27.5" font-style="italic" stroke="#fff" stroke-width="0.6">η</text>
<text transform="translate(31,249.2) rotate(-90) scale(1.045,1)" font-size="37.5" text-anchor="middle" stroke="#fff" stroke-width="0.7"><tspan font-style="italic">φ</tspan>(<tspan font-style="italic">η</tspan>)</text>
<path d="M257.00,299.40 L196.67,394.68" stroke="#747474" stroke-width="1.9" fill="none"/>
<path d="M183.30,415.80 L192.86,385.75 Q195.05,390.69 197.74,392.99 Q200.97,394.44 206.38,394.31 Z" fill="#000"/>
<path d="M493.6,36.5 H564.3" stroke="#888" stroke-width="2.0"/>
<path d="M794.9,49.2 L802.0,24.7 M793.6,87.5 L800.3,63.0" stroke="#000" stroke-width="1.35"/>
<g fill="#000">
<rect x="674.1" y="36.4" width="14.5" height="1.45"/>
<rect x="600.4" y="72.1" width="12.6" height="2.35"/>
<rect x="625.5" y="72.1" width="12.6" height="2.35"/>
<rect x="649.8" y="72.1" width="12.6" height="2.35"/>
<rect x="674.9" y="72.1" width="12.6" height="2.35"/>
</g>
<g font-size="27" fill="#000">
<text x="573.8" y="43.5">AA7072</text>
<text x="696.8" y="43.5">AA7075</text>

<text x="809.5" y="43.5">water</text>
<text x="695.5" y="81.7">AA7075</text>

<text x="807.3" y="81.7">water</text>
</g>
<g stroke-width="2.7">
<path d="M602.8,359.7 H665.2" stroke="#e80c14" stroke-dasharray="12.5 12"/>
<path d="M602.8,397.6 H665.2" stroke="#0c0cdc" stroke-dasharray="12.5 12"/>
<path d="M604.2,439.1 H666.8" stroke="#10e4ec" stroke-dasharray="12.5 12"/>
</g>
<g stroke-width="1.9">
<path d="M682.9,359.4 H753.9" stroke="#f27e7e"/>
<path d="M684.6,397.6 H755.5" stroke="#7e7ef2"/>
<path d="M686.3,438.1 H756.6" stroke="#7ef6f6"/>
</g>
<g fill="#000">
<path d="M770.8,353.6 Q772.0,351.8 774.3,352.0 L784.4,352.0" stroke="#000" stroke-width="1.45" fill="none"/><path d="M778.4,352.0 L776.2,362.0 Q776.0,363.8 778.0,363.0" stroke="#000" stroke-width="1.9" fill="none" stroke-linecap="round"/><rect x="792.0" y="353.0" width="15.6" height="1.35"/><rect x="792.0" y="359.3" width="15.6" height="1.35"/>
<path d="M772.5,392.1 Q773.7,390.3 776.0,390.5 L786.1,390.5" stroke="#000" stroke-width="1.45" fill="none"/><path d="M780.1,390.5 L777.9,400.5 Q777.7,402.3 779.7,401.5" stroke="#000" stroke-width="1.9" fill="none" stroke-linecap="round"/><rect x="793.4" y="391.5" width="15.6" height="1.35"/><rect x="793.4" y="397.8" width="15.6" height="1.35"/>
<path d="M777.0,429.9 Q778.2,428.1 780.5,428.3 L790.6,428.3" stroke="#000" stroke-width="1.45" fill="none"/><path d="M784.6,428.3 L782.4,438.3 Q782.2,440.1 784.2,439.3" stroke="#000" stroke-width="1.9" fill="none" stroke-linecap="round"/><rect x="798.1" y="429.3" width="15.6" height="1.35"/><rect x="798.1" y="435.6" width="15.6" height="1.35"/>
</g>
<g font-size="27" fill="#000">
<text x="815.0" y="363.6" letter-spacing="1">0.1,</text>
<text x="816.8" y="402.1" letter-spacing="0.5">0.3,</text>
<text x="821.7" y="439.4" letter-spacing="0.3">0.6.</text>
</g>
</svg>
</body></html>
